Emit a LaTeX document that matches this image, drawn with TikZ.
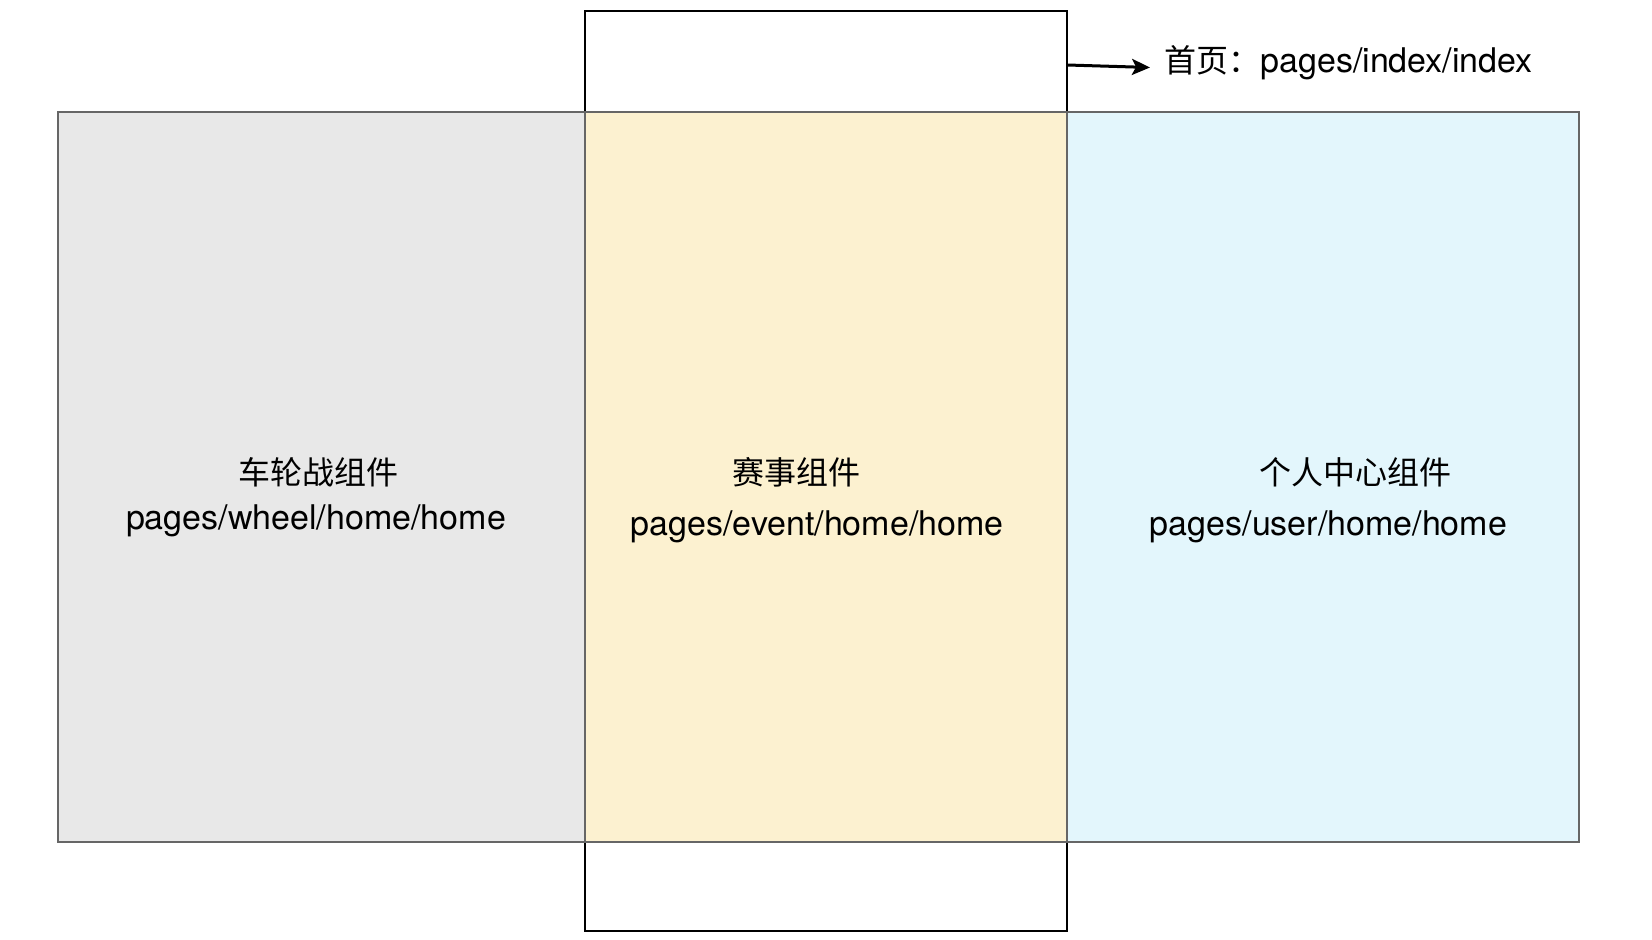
\documentclass[tikz,border=0pt]{standalone}
\usepackage{fontspec}
\setmainfont{TeX Gyre Heros}
\newfontfamily\cjk{Noto Sans CJK SC}
\usetikzlibrary{arrows.meta}
\definecolor{grayfill}{HTML}{E8E8E8}
\definecolor{yellowfill}{HTML}{FCF1D0}
\definecolor{bluefill}{HTML}{E3F6FC}
\definecolor{edgegray}{HTML}{666666}
\tikzset{
  panel/.style={draw=edgegray, line width=1pt, anchor=north west, inner sep=0pt, minimum height=365pt},
  label/.style={inner sep=0pt, font=\fontsize{17pt}{20pt}\selectfont},
  cjklabel/.style={inner sep=0pt, font=\fontsize{16pt}{20pt}\selectfont\cjk},
}
\begin{document}
\begin{tikzpicture}[x=0.5pt, y=-0.5pt]
\useasboundingbox[fill=white] (0,0) rectangle (1652,940);
% tall page frame
\node[draw=black, line width=1pt, fill=white, anchor=north west, inner sep=0pt,
      minimum width=241pt, minimum height=459.5pt] (tall) at (584,10.5) {};
% three component panels
\node[panel, fill=grayfill, minimum width=263.5pt] (wheel) at (57,110.6) {};
\node[panel, fill=yellowfill, minimum width=241pt] (event) at (584,110.6) {};
\node[panel, fill=bluefill, minimum width=256pt] (user) at (1066,110.6) {};
% labels
\node[cjklabel] (wheelcn) at (318,472) {车轮战组件};
\node[label] (wheelpath) at (316,521) {pages/wheel/home/home};
\node[cjklabel] (eventcn) at (796.5,472) {赛事组件};
\node[label] (eventpath) at (817,527) {pages/event/home/home};
\node[cjklabel] (usercn) at (1355,472) {个人中心组件};
\node[label] (userpath) at (1328.5,527) {pages/user/home/home};
% index label and arrow
\node[label, anchor=west] (idx) at (1164,63) {{\fontsize{16pt}{20pt}\selectfont\cjk 首页：}pages/index/index};
\coordinate (arrowstart) at (1067,65);
\coordinate (arrowend) at (1150,67.5);
\draw[line width=1.5pt, -{Stealth[length=9pt,width=8pt,inset=2pt]}] (arrowstart) -- (arrowend);
\end{tikzpicture}
\end{document}
